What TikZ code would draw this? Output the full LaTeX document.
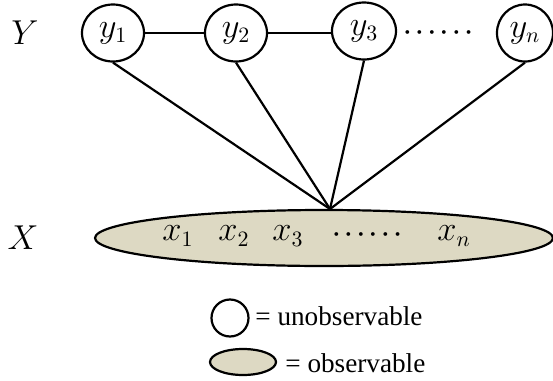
\documentclass[tikz,border=0pt]{standalone}
\usepackage{fontspec}
\setmainfont{Liberation Serif}
\usepackage{tikz}
\usetikzlibrary{shapes.geometric,positioning}
\definecolor{obsfill}{HTML}{DDD9C3}

\begin{document}
\begin{tikzpicture}[x=0.5pt, y=-0.5pt,
    hidden/.style={draw, ellipse, line width=1.1pt, inner sep=0pt, minimum width=31pt, minimum height=28.5pt, font=\fontsize{16}{19}\selectfont},
    observed/.style={draw, ellipse, line width=1.1pt, fill=obsfill, inner sep=0pt},
    varlbl/.style={inner sep=0pt, font=\fontsize{16}{19}\selectfont},
    dotlbl/.style={inner sep=0pt, font=\fontsize{12}{14}\selectfont\boldmath},
    keytext/.style={inner sep=0pt, anchor=base west, font=\fontsize{13.6}{16}\selectfont},
    link/.style={line width=1.1pt}]
    \useasboundingbox (0,0) rectangle (553,381);

    % hidden chain
    \node[varlbl, font=\fontsize{18.5}{22}\selectfont] (ylabel) at (25,33) {$Y$};
    \node[hidden] (y1) at (113,33) {$y_1$};
    \node[hidden] (y2) at (236,33) {$y_2$};
    \node[hidden, minimum width=32pt] (y3) at (364,31) {$y_3$};
    \node[dotlbl] (ydots) at (438,33) {$\cdotp\cdotp\cdotp\cdotp\cdotp\cdotp$};
    \node[hidden, minimum width=28pt] (yn) at (525,33) {$y_n$};

    % observed sequence
    \node[observed, minimum width=229pt, minimum height=28pt] (xs) at (324,238) {};
    \node[varlbl, font=\fontsize{18.5}{22}\selectfont] (xlabel) at (23,238) {$X$};
    \node[varlbl] (x1) at (178,236) {$x_1$};
    \node[varlbl] (x2) at (234,236) {$x_2$};
    \node[varlbl] (x3) at (288,236) {$x_3$};
    \node[dotlbl] (xdots) at (367,235) {$\cdotp\cdotp\cdotp\cdotp\cdotp\cdotp$};
    \node[varlbl] (xn) at (454,236) {$x_n$};
    \coordinate (hub) at (330,209);

    \draw[link] (y1) -- (y2);
    \draw[link] (y2.east) -- (y2.east -| y3.west);
    \foreach \v in {y1,y2,y3,yn}
        \draw[link] (\v.south) -- (hub);

    % key
    \node[draw, circle, line width=1.1pt, inner sep=0pt, minimum size=18.5pt] (keyhid) at (230,318) {};
    \node[keytext] (keyhidtxt) at (255,325) {= unobservable};
    \node[observed, minimum width=33pt, minimum height=13pt] (keyobs) at (243,362) {};
    \node[keytext] (keyobstxt) at (285,372) {= observable};
\end{tikzpicture}
\end{document}
